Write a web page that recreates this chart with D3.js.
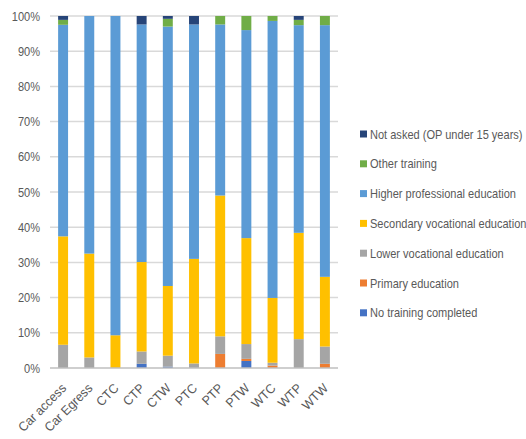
<!DOCTYPE html>
<html><head><meta charset="utf-8">
<script src="https://cdn.jsdelivr.net/npm/d3@7"></script>
<style>
html,body{margin:0;padding:0;background:#fff;}
text{font-family:"Liberation Sans",Arial,sans-serif;}
</style></head>
<body>
<svg id="chart" width="526" height="439"></svg>
<script>
const categories = ["Car access","Car Egress","CTC","CTP","CTW","PTC","PTP","PTW","WTC","WTP","WTW"];
const noTraining = [0,0,0,1.2,0.4,0,0,2.0,0,0,0];
const primary    = [0,0,0,0,0,0,4.0,0.6,0.7,0,1.2];
const lower      = [6.6,3.0,0,3.5,3.1,1.3,5.0,4.2,0.8,8.2,4.9];
const secondary  = [30.8,29.5,9.3,25.4,19.8,29.7,40.0,30.1,18.4,30.2,19.8];
const higher     = [60.1,67.5,90.7,67.5,73.7,66.6,48.6,59.1,78.7,59.0,71.5];
const other      = [1.4,0,0,0,2.2,0,2.4,4.0,1.4,1.5,2.6];
const notAsked   = [1.1,0,0,2.4,0.8,2.4,0,0,0,1.1,0];
const yTicks = [0,10,20,30,40,50,60,70,80,90,100];

const seriesNames = ["No  training completed","Primary education","Lower vocational education","Secondary vocational education","Higher professional education","Other training","Not asked (OP under 15 years)"];
const seriesValues = [noTraining, primary, lower, secondary, higher, other, notAsked];
const colors = ["#4472C4","#ED7D31","#A5A5A5","#FFC000","#5B9BD5","#70AD47","#264478"];
const SX = 0.85;

const svg = d3.select("#chart");
const x = d3.scaleBand().domain(categories).range([50,338]).paddingInner(0.62).paddingOuter(0.31);
const y = d3.scaleLinear().domain([0,100]).range([368,16]);

// gridlines
svg.append("g").selectAll("line").data(yTicks.filter(d=>d>0)).join("line")
  .attr("x1",50).attr("x2",338).attr("y1",d=>y(d)).attr("y2",d=>y(d))
  .attr("stroke","#d9d9d9").attr("stroke-width",1.5);

// y labels
const yAxis = d3.axisLeft(y).tickValues(yTicks).tickFormat(d=>d+"%").tickSize(0).tickPadding(10);
const ya = svg.append("g").attr("transform","translate(50,0)").call(yAxis);
ya.select(".domain").remove();
ya.selectAll("text").attr("fill","#595959").style("font-size","13px")
  .attr("x",-10/SX).attr("transform",`scale(${SX},1)`);

// stacks
const table = categories.map((c,i)=>{const o={cat:c}; seriesNames.forEach((s,j)=>o[s]=seriesValues[j][i]); return o;});
const stack = d3.stack().keys(seriesNames)(table);
svg.append("g").selectAll("g").data(stack).join("g")
  .attr("fill",(d,i)=>colors[i])
  .selectAll("rect").data(d=>d).join("rect")
  .attr("x",d=>x(d.data.cat)).attr("width",x.bandwidth())
  .attr("y",d=>y(d[1])).attr("height",d=>Math.max(0,y(d[0])-y(d[1])));

// baseline
svg.append("line").attr("x1",50).attr("x2",338).attr("y1",y(0)).attr("y2",y(0))
  .attr("stroke","#bfbfbf").attr("stroke-width",1.5);

// x labels
const xAxis = d3.axisBottom(x).tickSize(0);
const xa = svg.append("g").attr("transform",`translate(0,${y(0)})`).call(xAxis);
xa.select(".domain").remove();
xa.selectAll("text").attr("fill","#595959").style("font-size","13px")
  .attr("text-anchor","end").attr("dy","0").attr("y",0)
  .attr("transform",`translate(4,21) rotate(-45) scale(0.95,1)`);

// legend
const legendOrder = seriesNames.map((s,i)=>i).reverse();
const lg = svg.append("g").selectAll("g").data(legendOrder).join("g")
  .attr("transform",(d,i)=>`translate(360,${134 + i*29.8})`);
lg.append("rect").attr("x",0).attr("y",-3.5).attr("width",7).attr("height",7).attr("fill",d=>colors[d]);
lg.append("text").attr("x",10/SX).attr("y",0).attr("dy","0.35em")
  .attr("transform",`scale(${SX},1)`)
  .attr("fill","#595959").style("font-size","13px").text(d=>seriesNames[d]);
</script>
</body></html>
